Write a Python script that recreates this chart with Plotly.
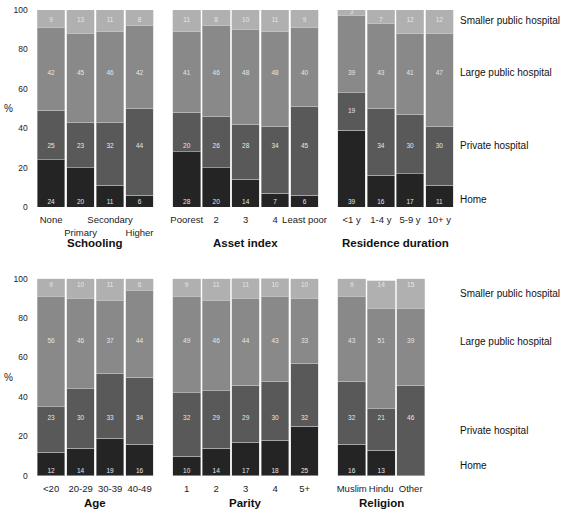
import plotly.graph_objects as go

# ---------------- data ----------------
series_names = ["Home", "Private hospital", "Large public hospital", "Smaller public hospital"]
series_colors = ["#242424", "#595959", "#898989", "#b0b0b0"]

schooling_cats = ["None", "Primary", "Secondary", "Higher"]
schooling_ticks = ["None", "<br>Primary", "Secondary", "<br>Higher"]
schooling_home = [24, 20, 11, 6]
schooling_private = [25, 23, 32, 44]
schooling_large = [42, 45, 46, 42]
schooling_smaller = [9, 13, 11, 8]

asset_cats = ["Poorest", "2", "3", "4", "Least poor"]
asset_home = [28, 20, 14, 7, 6]
asset_private = [20, 26, 28, 34, 45]
asset_large = [41, 46, 48, 48, 40]
asset_smaller = [11, 8, 10, 11, 9]

residence_cats = ["<1 y", "1-4 y", "5-9 y", "10+ y"]
residence_home = [39, 16, 17, 11]
residence_private = [19, 34, 30, 30]
residence_large = [39, 43, 41, 47]
residence_smaller = [3, 7, 12, 12]

age_cats = ["<20", "20-29", "30-39", "40-49"]
age_home = [12, 14, 19, 16]
age_private = [23, 30, 33, 34]
age_large = [56, 46, 37, 44]
age_smaller = [9, 10, 11, 6]

parity_cats = ["1", "2", "3", "4", "5+"]
parity_home = [10, 14, 17, 18, 25]
parity_private = [32, 29, 29, 30, 32]
parity_large = [49, 46, 44, 43, 33]
parity_smaller = [9, 11, 11, 10, 10]

religion_cats = ["Muslim", "Hindu", "Other"]
religion_home = [16, 13, 0]
religion_private = [32, 21, 46]
religion_large = [43, 51, 39]
religion_smaller = [9, 14, 15]

y_ticks = [0, 20, 40, 60, 80, 100]

# ---------------- layout constants ----------------
W, H = 567, 517
FONT = "Liberation Sans, Arial, sans-serif"

def px_x(p):
    return p / W

def px_y(p):
    return 1 - p / H

top_row = (206, 5)      # bottom, top pixel
bot_row = (480, 279)

panels = [
    dict(title="Schooling", cats=schooling_cats, ticks=schooling_ticks,
         vals=[schooling_home, schooling_private, schooling_large, schooling_smaller],
         x=(35, 155), row=top_row, left=True),
    dict(title="Asset index", cats=asset_cats, ticks=asset_cats,
         vals=[asset_home, asset_private, asset_large, asset_smaller],
         x=(173, 323), row=top_row, left=False),
    dict(title="Residence duration", cats=residence_cats, ticks=residence_cats,
         vals=[residence_home, residence_private, residence_large, residence_smaller],
         x=(341, 460), row=top_row, left=False),
    dict(title="Age", cats=age_cats, ticks=age_cats,
         vals=[age_home, age_private, age_large, age_smaller],
         x=(35, 155), row=bot_row, left=True),
    dict(title="Parity", cats=parity_cats, ticks=parity_cats,
         vals=[parity_home, parity_private, parity_large, parity_smaller],
         x=(173, 323), row=bot_row, left=False),
    dict(title="Religion", cats=religion_cats, ticks=religion_cats,
         vals=[religion_home, religion_private, religion_large, religion_smaller],
         x=(341, 431), row=bot_row, left=False),
]

# default label heights (data units) per series, for each row
label_rows_top = [2.5, 31, 68, 94.5]
label_rows_bot = [2.2, 29, 68, 96.8]
legend_rows_top = [4, 31, 68, 94.5]
legend_rows_bot = [5, 23, 68, 92.5]

fig = go.Figure()
layout = dict(
    width=W, height=H,
    margin=dict(l=0, r=0, t=0, b=0),
    paper_bgcolor="white", plot_bgcolor="white",
    barmode="stack", bargap=0.06,
    showlegend=False,
    font=dict(family=FONT, color="#222222"),
)
annotations = []

for i, p in enumerate(panels):
    k = "" if i == 0 else str(i + 1)
    xa, ya = "x" + k, "y" + k
    bottom, top = p["row"]
    label_rows = label_rows_top if p["row"] == top_row else label_rows_bot
    for s, (name, col) in enumerate(zip(series_names, series_colors)):
        fig.add_trace(go.Bar(
            x=p["cats"], y=p["vals"][s], name=name,
            marker=dict(color=col, line=dict(color="#cfcfcf", width=0.5)),
            xaxis=xa, yaxis=ya, hoverinfo="skip",
        ))
    # value labels
    lx, ly, lt = [], [], []
    for s in range(4):
        for j, c in enumerate(p["cats"]):
            v = p["vals"][s][j]
            if v == 0:
                continue
            base = sum(p["vals"][t][j] for t in range(s))
            topv = base + v
            y = label_rows[s]
            if not (base <= y <= topv):
                y = base + v / 2
            lx.append(c)
            ly.append(y)
            lt.append(str(v))
    fig.add_trace(go.Scatter(
        x=lx, y=ly, text=lt, mode="text", textposition="middle center",
        textfont=dict(size=6.5, color="#e6e6e6", family=FONT),
        xaxis=xa, yaxis=ya, hoverinfo="skip",
    ))
    n = len(p["cats"])
    layout["xaxis" + k] = dict(
        domain=[px_x(p["x"][0]), px_x(p["x"][1])],
        anchor=ya, type="category", range=[-0.5, n - 0.5],
        tickvals=p["cats"], ticktext=p["ticks"],
        showgrid=False, zeroline=False, showline=False,
        ticks="outside", ticklen=4, tickcolor="rgba(0,0,0,0)",
        tickfont=dict(size=9.5, color="#222222"), tickangle=0,
        fixedrange=True,
    )
    layout["yaxis" + k] = dict(
        domain=[px_y(bottom), px_y(top)],
        anchor=xa, range=[0, 100],
        tickvals=y_ticks, showticklabels=p["left"],
        showgrid=False, zeroline=False, showline=False,
        ticks="outside", ticklen=6, tickcolor="rgba(0,0,0,0)",
        tickfont=dict(size=8.5, color="#222222"),
        fixedrange=True,
    )
    # panel title
    title_y = 243 if p["row"] == top_row else 508
    annotations.append(dict(
        text="<b>" + p["title"] + "</b>", xref="paper", yref="paper",
        x=px_x((p["x"][0] + p["x"][1]) / 2), y=px_y(title_y),
        xanchor="center", yanchor="middle", showarrow=False,
        font=dict(size=11.5, color="#111111", family=FONT),
    ))
    if p["left"]:
        annotations.append(dict(
            text="%", xref="paper", yref="paper",
            x=px_x(7), y=px_y((bottom + top) / 2),
            xanchor="center", yanchor="middle", showarrow=False,
            font=dict(size=10, color="#222222", family=FONT),
        ))
    # series name labels at right
    if i in (2, 5):
        rows = legend_rows_top if i == 2 else legend_rows_bot
        for s in range(4):
            annotations.append(dict(
                text=series_names[s], xref="paper", yref=ya,
                x=px_x(464), y=rows[s], xanchor="left", yanchor="middle",
                showarrow=False,
                font=dict(size=10, color="#111111", family=FONT),
            ))

layout["annotations"] = annotations
fig.update_layout(**layout)
fig.write_html(
    "out.html",
    config={"displayModeBar": False},
    post_script=(
        "document.documentElement.style.margin='0';"
        "document.documentElement.style.overflow='hidden';"
        "document.body.style.margin='0';document.body.style.padding='0';"
        "document.body.style.overflow='hidden';"
    ),
)
